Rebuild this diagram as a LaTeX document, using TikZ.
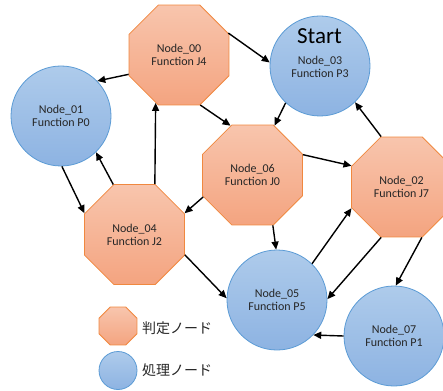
\documentclass[tikz,border=0pt]{standalone}
\usepackage{fontspec}
\setmainfont{Carlito}
\newfontfamily\jpfont{Noto Sans CJK JP}
\usetikzlibrary{shapes.geometric,arrows.meta}
\definecolor{octtop}{HTML}{F8C5AD}
\definecolor{octbot}{HTML}{F4A480}
\definecolor{octline}{HTML}{F0883F}
\definecolor{cirtop}{HTML}{AECBEB}
\definecolor{cirbot}{HTML}{8DB3E2}
\definecolor{cirline}{HTML}{5B9BD5}
\definecolor{txt}{HTML}{262626}
\tikzset{
  judge/.style={regular polygon, regular polygon sides=8, minimum size=108.2pt, inner sep=0pt,
    draw=octline, line width=0.8pt, top color=octtop, bottom color=octbot,
    font=\fontsize{12}{13}\selectfont, text=txt, align=center},
  proc/.style={circle, minimum size=100pt, inner sep=0pt,
    draw=cirline, line width=0.8pt, top color=cirtop, bottom color=cirbot,
    font=\fontsize{12}{13}\selectfont, text=txt, align=center},
  legjudge/.style={judge, minimum size=41pt},
  legproc/.style={proc, minimum size=38pt},
  legtext/.style={font=\jpfont\fontsize{14}{15}\selectfont, text=txt, anchor=west, inner sep=0pt},
  arr/.style={-{Stealth[length=8pt,width=7pt,inset=0pt]}, line width=1.4pt, black}
}
\begin{document}
\begin{tikzpicture}[x=1pt,y=-1pt]
\useasboundingbox (0,0) rectangle (443,390);
\begin{scope}
\clip (0,0) rectangle (443,390);
\node[judge] (n00) at (179,55) {Node\_00\\Function J4};
\node[proc] (n01) at (61,116) {Node\_01\\Function P0};
\node[proc] (n03) at (320,66) {};
\node[judge] (n06) at (252.5,175) {Node\_06\\Function J0};
\node[judge] (n02) at (401.5,187) {Node\_02\\Function J7};
\node[judge] (n04) at (134.5,234.5) {Node\_04\\Function J2};
\node[proc] (n05) at (277,300) {Node\_05\\Function P5};
\node[proc] (n07) at (394,336) {Node\_07\\Function P1};
\end{scope}
\node[font=\fontsize{23}{26}\selectfont, inner sep=0pt] (start) at (319.5,36) {Start};
\node[font=\fontsize{12}{13}\selectfont, text=txt, align=center, inner sep=0pt] (n03t) at (320,66.5) {Node\_03\\Function P3};

\node[legjudge] (lj) at (118,326) {};
\node[legproc] (lp) at (118,370.5) {};
\node[legtext] (ljt) at (142,328) {判定ノード};
\node[legtext] (lpt) at (142,370) {処理ノード};

\draw[arr] (n00.201) -- (n01.44);
\draw[arr] (n00.-67) -- (n06.114);
\draw[arr] (n00.24) -- (n03.176);
\draw[arr] (n03.227) -- (n06.66);
\draw[arr] (n02.112) -- (n03.-46);
\draw[arr] (n06.22) -- (n02.157);
\draw[arr] (n01.-89) -- (n04.157);
\draw[arr] (n04.113) -- (n01.-46);
\draw[arr] (n04.68) -- (n00.244);
\draw[arr] (n06.204) -- (n04.23);
\draw[arr] (n04.-22) -- (n05.178);
\draw[arr] (n06.-68) -- (n05.91);
\draw[arr] (n05.46) -- (n02.203);
\draw[arr] (n02.248) -- (n05.1);
\draw[arr] (n02.-68) -- (n07.88);
\draw[arr] (n07.180) -- (n05.-44);
\end{tikzpicture}
\end{document}
